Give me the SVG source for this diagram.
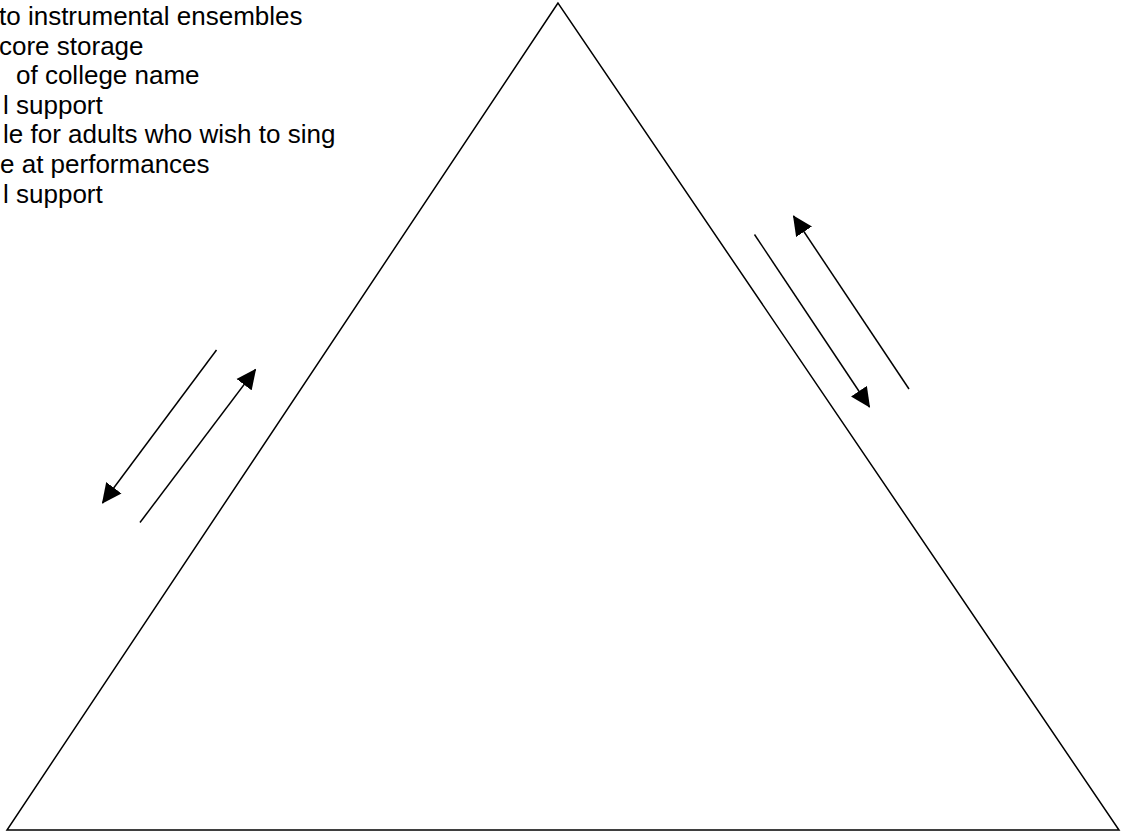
<svg xmlns="http://www.w3.org/2000/svg" width="1124" height="832" viewBox="0 0 1124 832">
<style>
.t{font-family:"Liberation Sans",Arial,sans-serif;font-size:26px;fill:#000}
.ln{stroke:#000;stroke-width:1.5;fill:none}
.ar{stroke:#000;stroke-width:1.5;fill:none;marker-end:url(#ah)}
</style>
<defs>
<marker id="ah" viewBox="0 0 20 20" refX="19" refY="10" markerWidth="20" markerHeight="20" markerUnits="userSpaceOnUse" orient="auto">
<path d="M0,0.5 L20,10 L0,19.5 z" fill="#000"/>
</marker>
</defs>
<rect width="1124" height="832" fill="#fff"/>
<g id="text-list">
<text class="t" x="-1" y="25">to instrumental ensembles</text>
<text class="t" x="-1" y="54.6">core storage</text>
<text class="t" x="16" y="84.2">of college name</text>
<text class="t" x="3" y="113.8">l support</text>
<text class="t" x="3" y="143.4">le for adults who wish to sing</text>
<text class="t" x="0" y="173">e at performances</text>
<text class="t" x="3" y="202.6">l support</text>
</g>
<g id="triangle">
<polygon class="ln" points="558,3 7,830 1119,830"/>
</g>
<g id="connectors">
<line class="ar" x1="216.5" y1="350" x2="102.5" y2="503"/>
<line class="ar" x1="140" y1="522.5" x2="255.5" y2="369.5"/>
<line class="ar" x1="909" y1="389" x2="793.5" y2="216"/>
<line class="ar" x1="754.5" y1="234.5" x2="869.5" y2="407"/>
</g>
</svg>
